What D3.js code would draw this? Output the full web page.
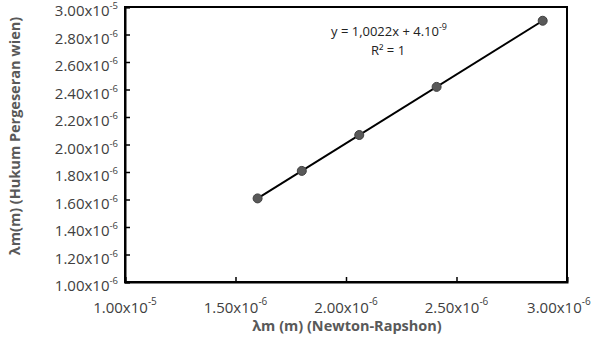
<!DOCTYPE html>
<html><head><meta charset="utf-8">
<script src="https://cdn.jsdelivr.net/npm/d3@7"></script>
<style>body{margin:0;background:#fff}svg{display:block}text{font-family:"Open Sans",sans-serif}</style>
</head><body>
<script>
const xValues = [1.60, 1.80, 2.06, 2.41, 2.89];
const yValues = [1.608, 1.808, 2.069, 2.419, 2.900];
const xTicks = [1.0, 1.5, 2.0, 2.5, 3.0];
const xTickMant = ["1.00x10", "1.50x10", "2.00x10", "2.50x10", "3.00x10"];
const xTickExp = ["-5", "-6", "-6", "-6", "-6"];
const yTicks = [1.0, 1.2, 1.4, 1.6, 1.8, 2.0, 2.2, 2.4, 2.6, 2.8, 3.0];
const yTickMant = ["1.00x10","1.20x10","1.40x10","1.60x10","1.80x10","2.00x10","2.20x10","2.40x10","2.60x10","2.80x10","3.00x10"];
const yTickExp = ["-6","-6","-6","-6","-6","-6","-6","-6","-6","-6","-5"];
const xTitle = "λm  (m) (Newton-Rapshon)";
const yTitle = "λm(m) (Hukum Pergeseran wien)";
const eqText = "y = 1,0022x  + 4.10";
const eqExp = "-9";

const W = 596, H = 337;
const m = {left:125, right:29, top:7, bottom:55};
const svg = d3.select("body").append("svg").attr("width", W).attr("height", H);
const x = d3.scaleLinear().domain([1, 3]).range([m.left, W - m.right]);
const y = d3.scaleLinear().domain([1, 3]).range([H - m.bottom, m.top]);

// frame
svg.append("rect").attr("x", x(1)).attr("y", y(3)).attr("width", x(3)-x(1)).attr("height", y(1)-y(3))
  .attr("fill", "none").attr("stroke", "#000").attr("stroke-width", 2);

// axes
const xAxis = svg.append("g").attr("transform", `translate(0,${y(1)})`)
  .call(d3.axisBottom(x).tickValues(xTicks).tickSize(-5).tickFormat(""));
const yAxis = svg.append("g").attr("transform", `translate(${x(1)},0)`)
  .call(d3.axisLeft(y).tickValues(yTicks).tickSize(-5).tickFormat(""));
[xAxis, yAxis].forEach(g => { g.select(".domain").attr("stroke-width", 2); g.selectAll(".tick line").attr("stroke-width", 1.5); });

// x tick labels
const xl = svg.append("g").selectAll("text").data(xTicks).join("text")
  .attr("x", d => x(d)).attr("y", 313).attr("text-anchor", "middle")
  .attr("font-size", 15).attr("fill", "#404040");
xl.append("tspan").text((d,i) => xTickMant[i]);
xl.append("tspan").attr("dy", -8).attr("font-size", 10).text((d,i) => xTickExp[i]);
// keep labels inside the window
xl.each(function(d) {
  const b = this.getBBox();
  const over = b.x + b.width - (W - 5);
  if (over > 0) d3.select(this).attr("x", x(d) - over);
});

// y tick labels
const yl = svg.append("g").selectAll("text").data(yTicks).join("text")
  .attr("x", 118).attr("y", d => y(d) + 9).attr("text-anchor", "end")
  .attr("font-size", 15).attr("fill", "#404040");
yl.append("tspan").text((d,i) => yTickMant[i]);
yl.append("tspan").attr("dy", -7).attr("font-size", 9.5).text((d,i) => yTickExp[i]);

// trendline
svg.append("line")
  .attr("x1", x(xValues[0])).attr("y1", y(yValues[0]))
  .attr("x2", x(xValues[xValues.length-1])).attr("y2", y(yValues[yValues.length-1]))
  .attr("stroke", "#000").attr("stroke-width", 2);

// points
svg.append("g").selectAll("circle").data(xValues).join("circle")
  .attr("cx", d => x(d)).attr("cy", (d,i) => y(yValues[i])).attr("r", 4.5)
  .attr("fill", "#595959").attr("stroke", "#404040").attr("stroke-width", 1);

// equation
const eq = svg.append("text").attr("x", 389).attr("y", 36).attr("text-anchor", "middle")
  .attr("font-size", 13).attr("fill", "#222");
eq.append("tspan").text(eqText);
eq.append("tspan").attr("dy", -6).attr("font-size", 9).text(eqExp);
svg.append("text").attr("x", 388).attr("y", 55).attr("text-anchor", "middle")
  .attr("font-size", 13).attr("fill", "#222").text("R² = 1");

// axis titles
svg.append("text").attr("x", 347).attr("y", 331).attr("text-anchor", "middle")
  .attr("font-size", 14.5).attr("font-weight", "bold").attr("fill", "#595959").text(xTitle);
svg.append("text").attr("transform", "translate(20,136) rotate(-90)").attr("text-anchor", "middle")
  .attr("font-size", 14.5).attr("font-weight", "bold").attr("fill", "#595959").text(yTitle);
</script>
</body></html>
